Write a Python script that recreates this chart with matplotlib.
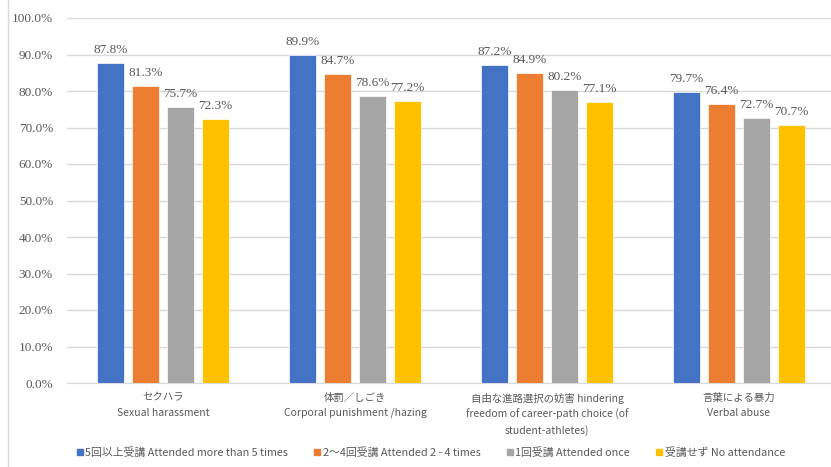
import numpy as np
import matplotlib
matplotlib.use("Agg")
import matplotlib.pyplot as plt
from matplotlib.lines import Line2D

categories = ["セクハラ\nSexual harassment",
              "体罰／しごき\nCorporal punishment /hazing",
              "自由な進路選択の妨害 hindering\nfreedom of career-path choice (of\nstudent-athletes)",
              "言葉による暴力\nVerbal abuse"]
series_names = ["5回以上受講 Attended more than 5 times",
                "2～4回受講 Attended 2 - 4 times",
                "1回受講 Attended once",
                "受講せず No attendance"]
more_than_5 = [87.8, 89.9, 87.2, 79.7]
two_to_4 = [81.3, 84.7, 84.9, 76.4]
once = [75.7, 78.6, 80.2, 72.7]
none_att = [72.3, 77.2, 77.1, 70.7]
yticks = [0, 10, 20, 30, 40, 50, 60, 70, 80, 90, 100]

colors = ["#4472C4", "#ED7D31", "#A5A5A5", "#FFC000"]
jp = ["Noto Sans CJK JP", "DejaVu Sans"]
serif = ["Liberation Serif", "DejaVu Serif"]
txt = "#595959"

fig = plt.figure(figsize=(8.31, 4.67), dpi=100)
ax = fig.add_axes([67/831, 1-383/467, 768/831, 365/467])

x = np.arange(len(categories))
pitch = 0.182
width = 0.142
all_series = [more_than_5, two_to_4, once, none_att]
for i, vals in enumerate(all_series):
    pos = x + (i - 1.5) * pitch
    bars = ax.bar(pos, vals, width, color=colors[i], edgecolor="white", linewidth=0.5,
                  label=series_names[i], zorder=3)
    for b, v in zip(bars, vals):
        ax.annotate(f"{v:.1f}%", (b.get_x() + b.get_width()/2, v), xytext=(0, 5),
                    textcoords="offset points", ha="center", va="bottom",
                    fontsize=9.5, color=txt, family=serif)

ax.set_xlim(-0.5, len(categories) - 0.5)
ax.set_ylim(0, 100)
ax.set_yticks(yticks)
ax.set_yticklabels([f"{t:.1f}%" for t in yticks], family=serif, fontsize=9.5, color=txt)
ax.set_xticks(x)
ax.set_xticklabels(categories, family=jp, fontsize=7.5, color=txt, linespacing=1.6)
ax.tick_params(axis="both", length=0)
ax.tick_params(axis="x", pad=7)
ax.tick_params(axis="y", pad=10)
ax.grid(axis="y", color="#d9d9d9", linewidth=1, zorder=0)
for s in ["top", "right", "left"]:
    ax.spines[s].set_visible(False)
ax.spines["bottom"].set_color("#d9d9d9")

handles = [Line2D([0], [0], marker="s", linestyle="none", markersize=5,
                  markerfacecolor=c, markeredgecolor=c) for c in colors]
fig.legend(handles, series_names, loc="center", bbox_to_anchor=(0.517, 0.031), ncol=4,
           frameon=False, prop={"family": jp, "size": 7.8}, labelcolor=txt,
           handletextpad=0.0, columnspacing=2.2, handlelength=1.0)

fig.add_artist(Line2D([8/831, 8/831], [0, 1], color="#d9d9d9", linewidth=1))

fig.savefig("out.png", dpi=100)
